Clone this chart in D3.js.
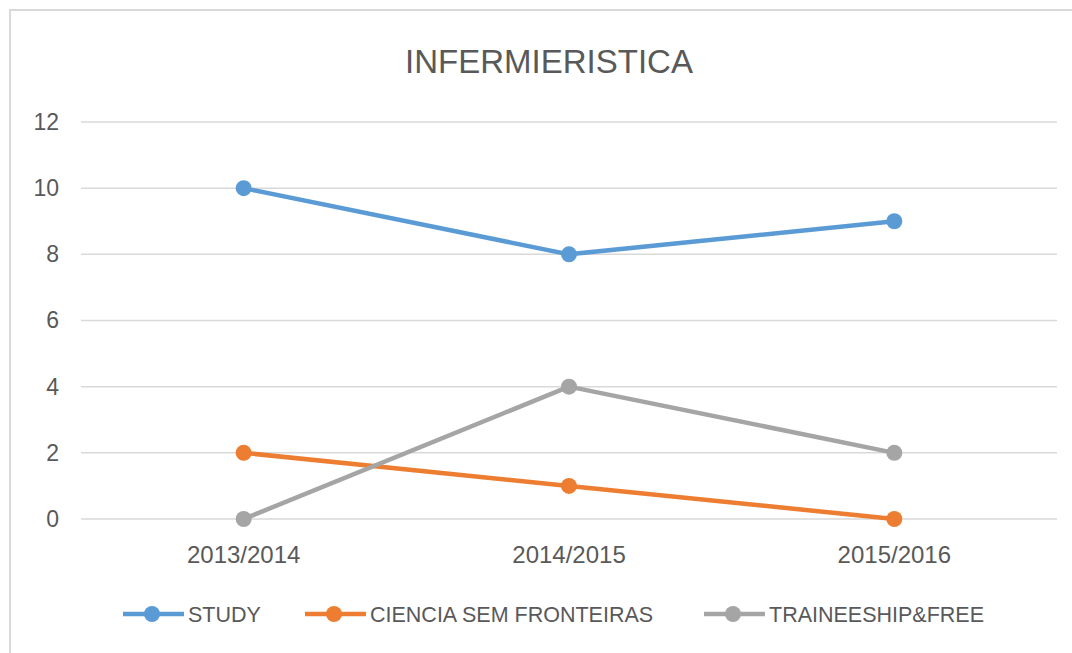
<!DOCTYPE html>
<html>
<head>
<meta charset="utf-8">
<script src="https://cdn.jsdelivr.net/npm/d3@7"></script>
<style>
  body { margin: 0; background: #fff; }
  svg { display: block; font-family: "Liberation Sans", Arial, sans-serif; }
</style>
</head>
<body>
<svg id="chart"></svg>
<script>
// Data
const categories = ["2013/2014", "2014/2015", "2015/2016"];
const study = [10, 8, 9];
const ciencia = [2, 1, 0];
const trainee = [0, 4, 2];
const seriesNames = ["STUDY", "CIENCIA SEM FRONTEIRAS", "TRAINEESHIP&FREE"];
const colors = ["#5B9BD5", "#ED7D31", "#A5A5A5"];
const yTicks = [0, 2, 4, 6, 8, 10, 12];

const width = 1072;
const height = 653;
const svg = d3.select("#chart").attr("width", width).attr("height", height);

// chart frame (only top + left visible in the crop)
svg.append("rect")
  .attr("x", 10).attr("y", 10)
  .attr("width", width + 20).attr("height", height + 20)
  .attr("fill", "#fff")
  .attr("stroke", "#D9D9D9")
  .attr("stroke-width", 2);

const margin = { left: 81, right: 15, top: 122, bottom: 134 };

const x = d3.scaleBand()
  .domain(categories)
  .range([margin.left, width - margin.right]);

const y = d3.scaleLinear()
  .domain([0, 12])
  .range([height - margin.bottom, margin.top]);

// title
svg.append("text")
  .attr("x", 549).attr("y", 73)
  .attr("text-anchor", "middle")
  .attr("fill", "#595959")
  .style("font-size", "33px")
  .text("INFERMIERISTICA");

// gridlines
svg.append("g")
  .selectAll("line")
  .data(yTicks)
  .join("line")
  .attr("x1", margin.left)
  .attr("x2", width - margin.right)
  .attr("y1", (d) => y(d))
  .attr("y2", (d) => y(d))
  .attr("stroke", "#D9D9D9")
  .attr("stroke-width", 1.5);

// y axis
const yAxis = svg.append("g")
  .attr("transform", `translate(${margin.left},0)`)
  .call(d3.axisLeft(y).tickValues(yTicks).tickSize(0).tickPadding(22));
yAxis.select(".domain").remove();
yAxis.selectAll("text")
  .attr("fill", "#595959")
  .style("font-size", "23px")
  .style("font-family", "Liberation Sans, Arial, sans-serif");

// x axis
const xAxis = svg.append("g")
  .attr("transform", `translate(0,${y(0)})`)
  .call(d3.axisBottom(x).tickSize(0).tickPadding(27));
xAxis.select(".domain").remove();
xAxis.selectAll("text")
  .attr("fill", "#595959")
  .style("font-size", "24px")
  .style("font-family", "Liberation Sans, Arial, sans-serif");

// series
const series = [study, ciencia, trainee].map((vals, i) => ({
  name: seriesNames[i],
  color: colors[i],
  values: vals.map((v, j) => ({ cat: categories[j], v }))
}));

const line = d3.line()
  .x((d) => x(d.cat) + x.bandwidth() / 2)
  .y((d) => y(d.v));

const sg = svg.append("g")
  .selectAll("g")
  .data(series)
  .join("g");

sg.append("path")
  .attr("d", (d) => line(d.values))
  .attr("fill", "none")
  .attr("stroke", (d) => d.color)
  .attr("stroke-width", 4.5)
  .attr("stroke-linejoin", "round");

sg.selectAll("circle")
  .data((d) => d.values.map((p) => ({ ...p, color: d.color })))
  .join("circle")
  .attr("cx", (d) => x(d.cat) + x.bandwidth() / 2)
  .attr("cy", (d) => y(d.v))
  .attr("r", 8)
  .attr("fill", (d) => d.color);

// legend
const legendX = [123, 305, 704];
const legend = svg.append("g")
  .selectAll("g")
  .data(series)
  .join("g")
  .attr("transform", (d, i) => `translate(${legendX[i]},614)`);

legend.append("line")
  .attr("x1", 0).attr("x2", 61)
  .attr("stroke", (d) => d.color)
  .attr("stroke-width", 4.5);

legend.append("circle")
  .attr("cx", 29).attr("r", 8)
  .attr("fill", (d) => d.color);

legend.append("text")
  .attr("x", 65)
  .attr("dy", "0.36em")
  .attr("fill", "#595959")
  .style("font-size", "21.5px")
  .text((d) => d.name);
</script>
</body>
</html>
